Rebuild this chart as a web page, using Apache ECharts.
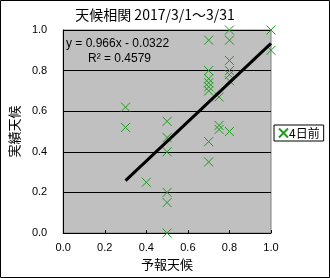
<!DOCTYPE html>
<html><head><meta charset="utf-8">
<script src="https://cdn.jsdelivr.net/npm/echarts@6/dist/echarts.min.js"></script>
<style>html,body{margin:0;padding:0;background:#fff}#c{width:330px;height:278px}</style>
</head><body><div id="c"></div>
<script>
const titleText = '天候相関 2017/3/1～3/31';
const seriesName = '4日前';
const xName = '予報天候';
const yName = '実績天候';
const forecast = [0.3,0.3,0.4,0.5,0.5,0.5,0.5,0.5,0.5,0.7,0.7,0.7,0.7,0.7,0.7,0.7,0.7,0.75,0.75,0.75,0.8,0.8,0.8,0.8,0.8,0.8,0.8,1.0,1.0];
const actual   = [0.62,0.52,0.25,0.55,0.47,0.40,0.20,0.15,0.0,0.95,0.80,0.76,0.74,0.72,0.70,0.45,0.35,0.67,0.53,0.51,1.0,0.95,0.85,0.80,0.78,0.75,0.50,1.0,0.90];
const trendX = [0.3, 1.0];
const trendY = [0.258, 0.934];
const eqLine1 = 'y = 0.966x - 0.0322';
const eqLine2 = 'R² = 0.4579';

const green = '#1f9a1f';
const crossPath = 'path://M0,0L10,10M10,0L0,10';
const chart = echarts.init(document.getElementById('c'), null, {renderer:'canvas'});
const font = '"Liberation Sans", Arial, sans-serif';
const jfont = '"Noto Sans CJK JP", sans-serif';
chart.setOption({
  animation: false,
  title: {text: titleText, left: 150, top: 3, textAlign: 'center',
    textStyle: {fontFamily: jfont, fontSize: 14, fontWeight: 'normal', color: '#000'}},
  grid: {left: 58, top: 30, right: 59, bottom: 45, show: true, backgroundColor: '#c0c0c0', borderColor: '#808080', borderWidth: 1},
  legend: {left: 274, top: 125, orient: 'vertical', borderColor: '#000', borderWidth: 1, padding: [2,4,2,4],
    itemWidth: 9, itemHeight: 9, itemGap: 0, data: [{name: seriesName, icon: crossPath}],
    textStyle: {fontFamily: jfont, fontSize: 12, color: '#000', padding: [0,0,0,-4]}},
  xAxis: {type: 'value', min: 0, max: 1, interval: 0.2, name: xName, nameLocation: 'middle', nameGap: 24,
    nameTextStyle: {fontFamily: jfont, fontSize: 13, color: '#000'},
    axisLine: {show: true, lineStyle: {color: '#000'}},
    axisTick: {show: true, inside: true, length: 3, lineStyle: {color: '#000'}},
    splitLine: {show: false},
    axisLabel: {formatter: v => v.toFixed(1), fontFamily: font, fontSize: 11, color: '#000', margin: 9}},
  yAxis: {type: 'value', min: 0, max: 1, interval: 0.2, name: yName, nameLocation: 'middle', nameGap: 37,
    nameTextStyle: {fontFamily: jfont, fontSize: 13, color: '#000', align: 'center', verticalAlign: 'middle'},
    axisLine: {show: true, lineStyle: {color: '#000'}},
    axisTick: {show: false},
    splitLine: {show: true, lineStyle: {color: '#000', width: 1}},
    axisLabel: {formatter: v => v.toFixed(1), fontFamily: font, fontSize: 11, color: '#000', margin: 16}},
  series: [
    {name: seriesName, type: 'scatter', symbol: crossPath, symbolSize: 9,
     itemStyle: {color: 'rgba(0,0,0,0)', borderColor: green, borderWidth: 1, opacity: 1},
     data: forecast.map((x, i) => [x, actual[i]]), z: 3},
    {name: 'trend', type: 'line', symbol: 'none', silent: true,
     lineStyle: {color: '#000', width: 3}, data: trendX.map((x, i) => [x, trendY[i]]), z: 4}
  ],
  graphic: [
    {type: 'rect', shape: {x: 0.5, y: 0.5, width: 329, height: 277}, style: {fill: 'none', stroke: '#000', lineWidth: 1}, silent: true},
    {type: 'text', left: 66, top: 38, style: {text: eqLine1, font: '12px ' + font, fill: '#000'}, z: 10},
    {type: 'text', left: 88, top: 53, style: {text: eqLine2, font: '12px ' + font, fill: '#000'}, z: 10}
  ]
});
</script></body></html>
